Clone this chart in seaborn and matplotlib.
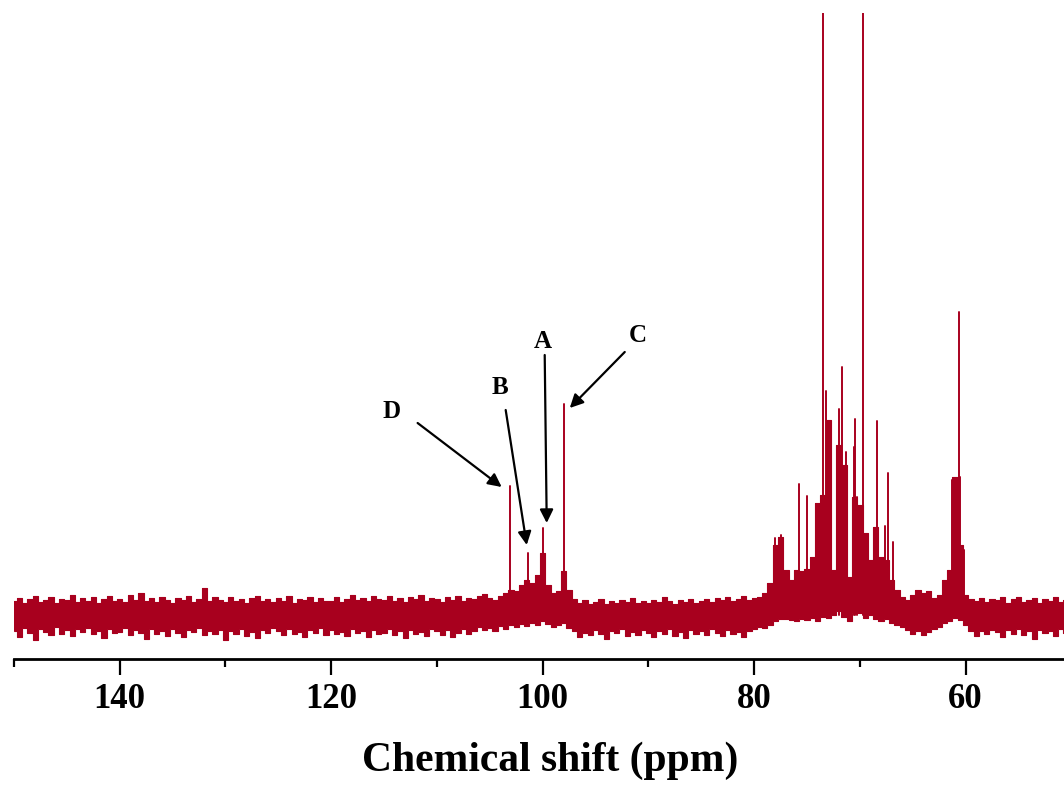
import numpy as np
import pandas as pd
import matplotlib.pyplot as plt
from matplotlib.ticker import MultipleLocator
import seaborn as sns

# 13C NMR spectrum, intensity in arbitrary units (baseline = 0)
ppm_grid = np.arange(150.0, 50.4, -0.5)

# upper / lower edge of the noise band, read every 0.5 ppm
noise_upper = [
    14, 17, 12, 16, 19, 13, 15, 18, 12, 16,   # 150 - 145.5
    15, 20, 13, 17, 14, 18, 12, 16, 19, 14,   # 145 - 140.5
    16, 13, 20, 15, 22, 14, 17, 13, 18, 15,   # 140 - 135.5
    12, 17, 15, 19, 13, 16, 27, 14, 18, 15,   # 135 - 130.5
    13, 18, 14, 16, 12, 17, 19, 14, 16, 13,   # 130 - 125.5
    17, 14, 19, 12, 16, 15, 18, 13, 17, 14,   # 125 - 120.5
    14, 18, 13, 16, 20, 15, 17, 14, 19, 16,   # 120 - 115.5
    15, 19, 14, 17, 13, 18, 16, 20, 14, 17,   # 115 - 110.5
    16, 13, 18, 15, 19, 14, 17, 16, 19, 21,   # 110 - 105.5
    17, 15, 19, 22, 25, 24, 30, 35, 32, 40,   # 105 - 100.5
    62, 30, 22, 24, 44, 25, 16, 12, 15, 11,   # 100 - 95.5
    13, 16, 11, 14, 12, 15, 13, 17, 12, 14,   # 95 - 90.5
    12, 15, 13, 18, 14, 11, 15, 13, 16, 12,   # 90 - 85.5
    14, 16, 13, 17, 15, 18, 14, 16, 19, 15,   # 85 - 80.5
    17, 18, 22, 32, 70, 78, 45, 35, 45, 44,   # 80 - 75.5
    46, 58, 112, 120, 195, 45, 170, 150, 38, 118,  # 75 - 70.5
    110, 82, 55, 88, 58, 55, 35, 25, 18, 15,  # 70 - 65.5
    20, 25, 22, 24, 17, 20, 35, 45, 138, 70,  # 65 - 60.5
    20, 16, 14, 17, 13, 16, 15, 18, 12, 16,   # 60 - 55.5
    18, 13, 15, 17, 12, 16, 14, 18, 13, 15,   # 55 - 50.5
]
noise_lower = [
    -16, -22, -13, -18, -25, -14, -17, -20, -12, -19,
    -15, -21, -14, -17, -13, -19, -16, -23, -14, -18,
    -17, -13, -20, -15, -18, -24, -14, -19, -16, -21,
    -14, -18, -22, -15, -17, -13, -20, -16, -19, -15,
    -25, -16, -19, -14, -21, -17, -23, -15, -18, -13,
    -16, -20, -14, -19, -17, -22, -15, -18, -13, -20,
    -15, -19, -17, -21, -14, -18, -16, -22, -15, -19,
    -18, -14, -20, -16, -23, -15, -19, -17, -21, -14,
    -16, -20, -15, -22, -18, -14, -19, -16, -12, -15,
    -13, -16, -11, -14, -10, -12, -9, -11, -8, -10,
    -6, -9, -12, -10, -8, -13, -16, -22, -18, -20,
    -15, -19, -24, -16, -18, -14, -21, -17, -20, -15,
    -18, -22, -16, -19, -14, -21, -17, -23, -15, -19,
    -16, -20, -14, -18, -21, -15, -19, -17, -22, -16,
    -14, -12, -13, -10, -6, -4, -4, -5, -6, -4,
    -5, -3, -6, -2, -3, 0, 4, -2, -6, 2,
    2, -3, 0, -4, -6, -4, -8, -10, -12, -15,
    -19, -16, -20, -17, -14, -12, -8, -6, -3, -5,
    -10, -16, -21, -16, -19, -15, -17, -22, -15, -19,
    -14, -20, -16, -24, -15, -18, -16, -21, -14, -18,
]

# sharp resonances (ppm, height)
peak_ppm = [103.12, 101.42, 100.0, 98.0,
            78.05, 77.49, 75.78, 75.02, 73.51, 73.23, 72.0, 71.71, 71.33,
            70.58, 70.48, 70.29, 69.73, 68.41, 67.65, 67.37, 66.9,
            61.3, 60.92, 60.64, 60.55, 60.17]
peak_height = [129, 62, 87, 211,
               77, 80, 131, 119, 900, 224, 206, 248, 163,
               168, 196, 118, 900, 194, 89, 142, 73,
               135, 123, 303, 138, 65]

RED = "#A8001E"

sns.set_theme(style="ticks")
plt.rcParams["font.family"] = ["Liberation Serif", "DejaVu Serif"]
plt.rcParams["font.weight"] = "bold"
plt.rcParams["text.color"] = "black"
plt.rcParams["axes.labelcolor"] = "black"
plt.rcParams["xtick.color"] = "black"

fig = plt.figure(figsize=(10.64, 7.94), dpi=100)
ax = fig.add_axes([14 / 1064, 135 / 794, 1050 / 1064, 646 / 794])

# noise band
ax.fill_between(ppm_grid, noise_lower, noise_upper, color=RED, lw=0, step="mid")
sns.lineplot(x=ppm_grid, y=noise_upper, color=RED, lw=0.8, sort=False,
             drawstyle="steps-mid", ax=ax)
sns.lineplot(x=ppm_grid, y=noise_lower, color=RED, lw=0.8, sort=False,
             drawstyle="steps-mid", ax=ax)

# peaks as sticks
rows = []
for i, (p, h) in enumerate(zip(peak_ppm, peak_height)):
    rows.append((i, p, 0))
    rows.append((i, p, h))
sticks = pd.DataFrame(rows, columns=["peak", "ppm", "intensity"])
sns.lineplot(data=sticks, x="ppm", y="intensity", units="peak", estimator=None,
             sort=False, color=RED, lw=1.4, ax=ax)

ax.set_xlim(150, 50.7)
ax.set_ylim(-44, 602)

# annotations
arrow = dict(arrowstyle="-|>", color="black", lw=1.6, mutation_scale=20,
             shrinkA=0, shrinkB=0)
lab = dict(fontsize=18, fontweight="bold", ha="center", va="center")
ax.annotate("", xy=(103.88, 128), xytext=(111.83, 192), arrowprops=arrow)
ax.annotate("", xy=(101.51, 70), xytext=(103.5, 205), arrowprops=arrow)
ax.annotate("", xy=(99.62, 92), xytext=(99.81, 260), arrowprops=arrow)
ax.annotate("", xy=(97.44, 207), xytext=(92.24, 263), arrowprops=arrow)
ax.text(114.29, 203, "D", **lab)
ax.text(104.07, 228, "B", **lab)
ax.text(100.0, 273, "A", **lab)
ax.text(91.01, 280, "C", **lab)

# axes styling
sns.despine(ax=ax, left=True)
ax.spines["bottom"].set_linewidth(2)
ax.spines["bottom"].set_color("black")
ax.set_yticks([])
ax.set_ylabel("")
ax.xaxis.set_major_locator(MultipleLocator(20))
ax.xaxis.set_minor_locator(MultipleLocator(10))
ax.tick_params(axis="x", which="major", direction="out", length=11.5, width=1.6,
               color="black", labelsize=25, pad=6)
ax.tick_params(axis="x", which="minor", direction="out", length=5.5, width=1.6,
               color="black")
for t in ax.get_xticklabels():
    t.set_fontweight("bold")
ax.set_xlabel("Chemical shift (ppm)", fontsize=30, fontweight="bold")
ax.xaxis.set_label_coords(0.5105, -0.127)

fig.savefig("out.png", dpi=100)
